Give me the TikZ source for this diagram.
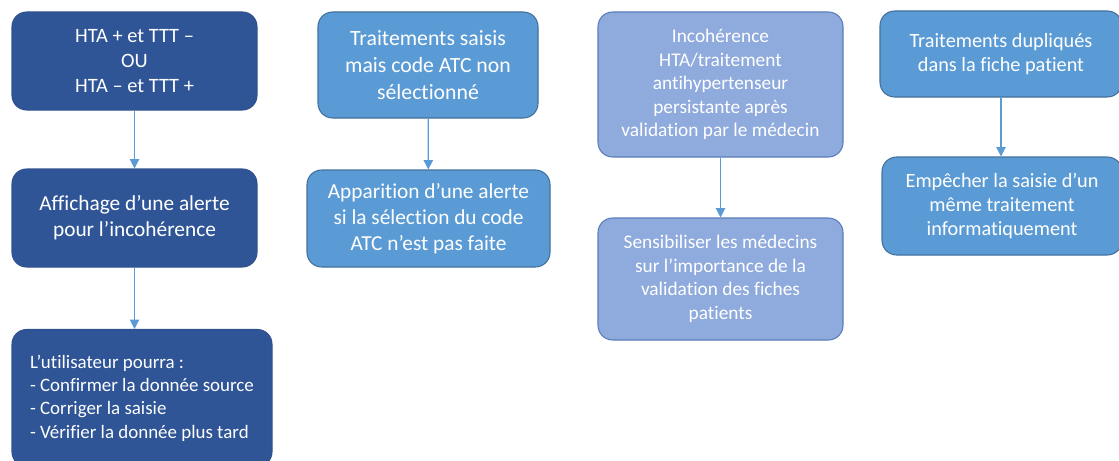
\documentclass[tikz,border=0pt]{standalone}
\usepackage{fontspec}
\setmainfont{Carlito}[Ligatures={NoCommon,NoRare},Contextuals=NoAlternate]
\usepackage{tikz}
\usepackage{xcolor}
\usetikzlibrary{arrows.meta}
\definecolor{darkblue}{HTML}{2F5597}
\definecolor{darkline}{HTML}{2F528F}
\definecolor{midblue}{HTML}{5B9BD5}
\definecolor{midline}{HTML}{41719C}
\definecolor{lightblue}{HTML}{8FAADC}
\definecolor{lightline}{HTML}{5A7DBA}

\begin{document}
\begin{tikzpicture}[x=0.75pt,y=-0.75pt,
  box/.style={rectangle,rounded corners=11pt,text=white,align=center,line width=0.8pt,inner sep=2pt},
  darkbox/.style={box,fill=darkblue,draw=darkline},
  midbox/.style={box,fill=midblue,draw=midline},
  lightbox/.style={box,fill=lightblue,draw=lightline},
  link/.style={draw=midblue,line width=0.9pt,-{Triangle[width=7pt,length=7pt]}}]
\useasboundingbox (0,0) rectangle (1119,460);
\node[darkbox,minimum width=183.75pt,minimum height=73.5pt,font=\fontsize{15.3}{18.4}\selectfont] (hta) at (134.5,61) {HTA + et TTT --\\OU\\HTA -- et TTT +};
\node[darkbox,minimum width=183.75pt,minimum height=73.5pt,font=\fontsize{16}{19.5}\selectfont] (alerte) at (134.5,218) {Affichage d’une alerte\\pour l’incohérence};
\node[darkbox,minimum width=195pt,minimum height=102.75pt,align=left,font=\fontsize{14.2}{17.5}\selectfont] (choix) at (142,398) {L’utilisateur pourra :\\- Confirmer la donnée source\\- Corriger la saisie\\- Vérifier la donnée plus tard};
\node[midbox,minimum width=165pt,minimum height=79.5pt,font=\fontsize{16.3}{20}\selectfont] (atc) at (428,65) {Traitements saisis\\mais code ATC non\\sélectionné};
\node[midbox,minimum width=182.25pt,minimum height=72.75pt,font=\fontsize{16}{19.5}\selectfont] (apparition) at (428.5,218.5) {Apparition d’une alerte\\si la sélection du code\\ATC n’est pas faite};
\node[lightbox,minimum width=183.75pt,minimum height=108.75pt,font=\fontsize{14.5}{17.6}\selectfont] (persist) at (720.5,84.5) {Incohérence\\HTA/traitement\\antihypertenseur\\persistante après\\validation par le médecin};
\node[lightbox,minimum width=183.75pt,minimum height=91.5pt,font=\fontsize{14.5}{17.6}\selectfont] (sensib) at (720.5,279) {Sensibiliser les médecins\\sur l’importance de la\\validation des fiches\\patients};
\node[midbox,minimum width=181.5pt,minimum height=64.5pt,font=\fontsize{15.2}{18}\selectfont] (dupli) at (1001,54) {Traitements dupliqués\\dans la fiche patient};
\node[midbox,minimum width=180pt,minimum height=73.5pt,font=\fontsize{15.2}{18}\selectfont] (empeche) at (1002,206) {Empêcher la saisie d’un\\même traitement\\informatiquement};
\draw[link] (hta) -- (alerte);
\draw[link] (alerte) -- (alerte|-choix.north);
\draw[link] (atc) -- (apparition);
\draw[link] (persist) -- (sensib);
\draw[link] (dupli) -- (dupli|-empeche.north);
\end{tikzpicture}
\end{document}
